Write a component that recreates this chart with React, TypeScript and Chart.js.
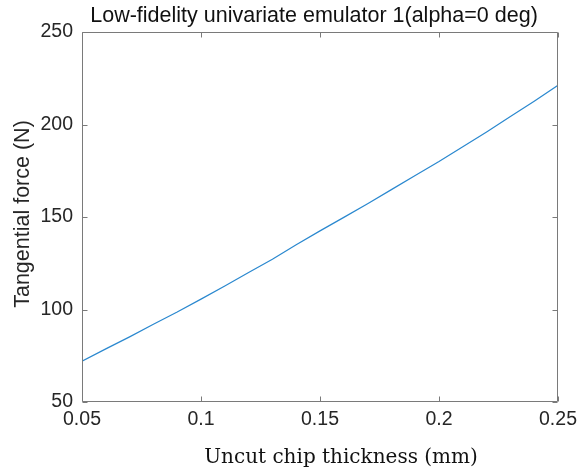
import React, { useEffect, useRef } from "react";
import { Chart, registerables } from "chart.js";

Chart.register(...registerables);

// Uncut chip thickness (mm) and predicted tangential force (N)
const thickness = [
  0.05, 0.06, 0.07, 0.08, 0.09, 0.1, 0.11, 0.12, 0.13, 0.14, 0.15, 0.16, 0.17,
  0.18, 0.19, 0.2, 0.21, 0.22, 0.23, 0.24, 0.25,
];
const force = [
  72.0, 78.7, 85.2, 92.0, 98.6, 105.6, 112.7, 120.0, 127.2, 135.0, 142.5,
  149.8, 157.2, 164.8, 172.4, 180.0, 188.0, 196.0, 204.3, 212.6, 221.2,
];

const xTicks = [0.05, 0.1, 0.15, 0.2, 0.25];
const yTicks = [50, 100, 150, 200, 250];

const titleText = "Low-fidelity univariate emulator 1(alpha=0 deg)";
const xTitle = "Uncut chip thickness (mm)";
const yTitle = "Tangential force (N)";

const SANS = '"Liberation Sans", Arial, Helvetica, sans-serif';
const SERIF = '"DejaVu Serif", "Liberation Serif", serif';
const AXIS_GRAY = "#7a7a7a";
const TEXT = "#262626";

// Draws the boxed axes with inward tick marks plus all title text
const framePlugin = {
  id: "matlabFrame",
  afterDraw(chart: any) {
    const { ctx, chartArea, scales } = chart;
    const { left, right, top, bottom } = chartArea;
    const tl = 5;
    ctx.save();
    ctx.strokeStyle = AXIS_GRAY;
    ctx.lineWidth = 1;
    ctx.beginPath();
    const L = Math.round(left) + 0.5;
    const R = Math.round(right) - 0.5;
    const T = Math.round(top) + 0.5;
    const B = Math.round(bottom) - 0.5;
    ctx.rect(L, T, R - L, B - T);
    for (const v of xTicks) {
      const px = Math.round(scales.x.getPixelForValue(v)) + 0.5;
      ctx.moveTo(px, B);
      ctx.lineTo(px, B - tl);
      ctx.moveTo(px, T);
      ctx.lineTo(px, T + tl);
    }
    for (const v of yTicks) {
      const py = Math.round(scales.y.getPixelForValue(v)) + 0.5;
      ctx.moveTo(L, py);
      ctx.lineTo(L + tl, py);
      ctx.moveTo(R, py);
      ctx.lineTo(R - tl, py);
    }
    ctx.stroke();

    ctx.fillStyle = "#111111";
    ctx.textAlign = "center";
    ctx.textBaseline = "middle";
    ctx.font = `21.5px ${SANS}`;
    ctx.fillText(titleText, 314, 16);

    ctx.fillStyle = "#111111";
    ctx.font = `20px ${SERIF}`;
    ctx.fillText(xTitle, 341, 458);

    ctx.fillStyle = TEXT;
    ctx.font = `21.5px ${SANS}`;
    ctx.translate(23, 214);
    ctx.rotate(-Math.PI / 2);
    ctx.fillText(yTitle, 0, 0);
    ctx.restore();
  },
};

export default function App() {
  const canvasRef = useRef<HTMLCanvasElement | null>(null);

  useEffect(() => {
    document.body.style.margin = "0";
    const canvas = canvasRef.current;
    if (!canvas) return;
    const chart = new Chart(canvas, {
      type: "scatter",
      data: {
        datasets: [
          {
            data: thickness.map((x, i) => ({ x, y: force[i] })),
            showLine: true,
            borderColor: "#2a88cf",
            borderWidth: 1.2,
            pointRadius: 0,
            tension: 0,
          },
        ],
      },
      options: {
        responsive: false,
        animation: false,
        layout: { padding: { top: 32, right: 25, left: 0, bottom: 0 } },
        plugins: {
          legend: { display: false },
          tooltip: { enabled: false },
        },
        scales: {
          x: {
            type: "linear",
            min: 0.05,
            max: 0.25,
            afterBuildTicks: (scale: any) => {
              scale.ticks = xTicks.map((value) => ({ value }));
            },
            afterFit: (scale: any) => {
              scale.height = 73;
            },
            grid: { display: false, drawTicks: false },
            border: { display: false },
            ticks: {
              padding: 6,
              maxRotation: 0,
              autoSkip: false,
              color: TEXT,
              font: { family: SANS, size: 19.5 },
              callback: (v: any) => String(v),
            },
          },
          y: {
            type: "linear",
            min: 50,
            max: 250,
            afterBuildTicks: (scale: any) => {
              scale.ticks = yTicks.map((value) => ({ value }));
            },
            afterFit: (scale: any) => {
              scale.width = 82;
            },
            grid: { display: false, drawTicks: false },
            border: { display: false },
            ticks: {
              padding: 9,
              autoSkip: false,
              color: TEXT,
              font: { family: SANS, size: 19.5 },
              callback: (v: any) => String(v),
            },
          },
        },
      },
      plugins: [framePlugin],
    });
    return () => chart.destroy();
  }, []);

  return (
    <div style={{ width: 583, height: 475, background: "#ffffff" }}>
      <canvas ref={canvasRef} width={583} height={475} style={{ display: "block" }} />
    </div>
  );
}
